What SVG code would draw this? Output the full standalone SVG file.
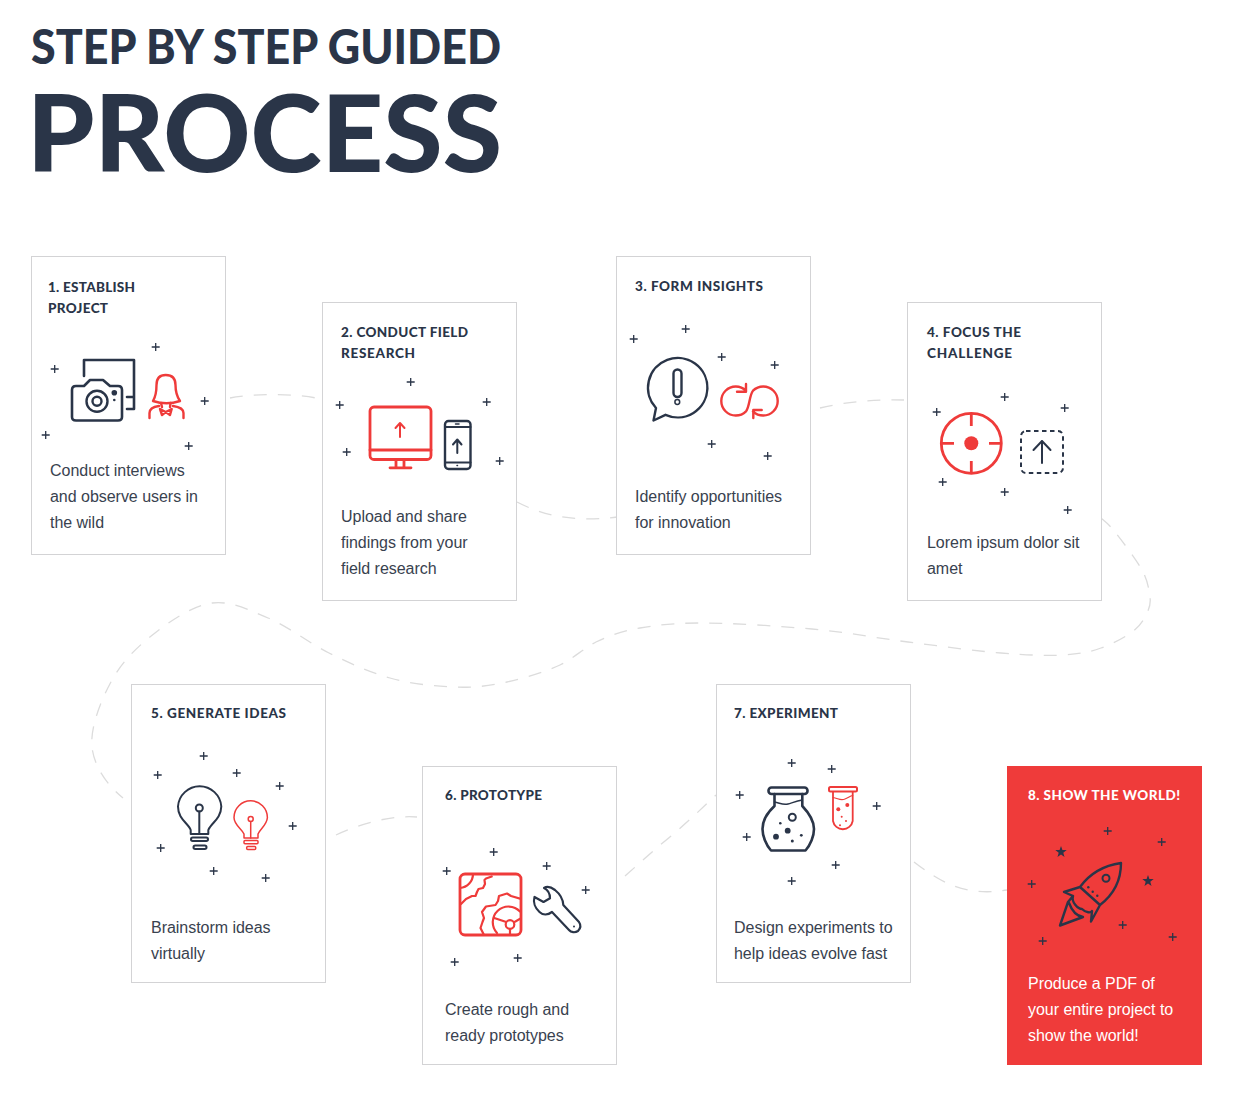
<svg xmlns="http://www.w3.org/2000/svg" xmlns:xlink="http://www.w3.org/1999/xlink" width="1236" height="1100" viewBox="0 0 1236 1100">
<style>
.card{fill:#fff;stroke:#d3d3d5;stroke-width:1}
.h{font-family:"Lato","Open Sans",sans-serif;font-weight:900;font-size:13.500px;fill:#2a3548}
.b{font-family:"Liberation Sans",Arial,sans-serif;font-size:16px;fill:#39424f;letter-spacing:-0.03px}
.t{font-family:"Lato","Open Sans",sans-serif;font-weight:900;fill:#2a3548}
.n{fill:none;stroke:#2a3548;stroke-width:2.400;stroke-linecap:round;stroke-linejoin:round}
.r{fill:none;stroke:#ef3b3a;stroke-width:2.400;stroke-linecap:round;stroke-linejoin:round}
.w2{stroke-width:2}
.w15{stroke-width:1.500}
.w18{stroke-width:1.800}
.nf{fill:#2a3548}
.rf{fill:#ef3b3a}
.wt{fill:#fff}
.c{fill:none;stroke:#dcdcdc;stroke-width:1.300;stroke-dasharray:13 11}
</style>
<defs>
<path id="p" d="M-3.300 0H4.700M0.700-4V4" fill="none" stroke="#2a3548" stroke-width="1.300"/>
<polygon id="s" points="0,-6 1.400,-1.900 5.700,-1.900 2.300,0.700 3.500,4.900 0,2.400 -3.500,4.900 -2.300,0.700 -5.700,-1.900 -1.400,-1.900" fill="#2a3548"/>
<clipPath id="sq"><rect x="460" y="874" width="61" height="61" rx="5"/></clipPath>
</defs>
<rect width="1236" height="1100" fill="#fff"/>
<g id="title">
<text class="t" x="31" y="64" font-size="48" textLength="470" lengthAdjust="spacingAndGlyphs">STEP BY STEP GUIDED</text>
<text class="t" x="27" y="172" font-size="107" textLength="475" lengthAdjust="spacingAndGlyphs">PROCESS</text>
</g>
<g id="connectors">
<path class="c" d="M230 398C250 394 290 393 316 398"/>
<path class="c" d="M517 502C540 514 570 523 617 517"/>
<path class="c" d="M820 408C845 402 875 399 904 400"/>
<path class="c" d="M1101 518C1103 520 1108 523 1115 532C1122 541 1136 559 1142 570C1148 581 1149 590 1150 597C1151 604.500 1149 609 1146 615C1143 621 1139.500 626.500 1132 632C1124.500 637.500 1112.500 644 1101 648C1089.500 652 1080 654 1063 655C1046 656 1027 655 1001 653C975 651 939.500 646 908 642C876.500 638 846 632 812 629C778 626 731 623 702 623C673 623 658 625 640 628C622 631 609 636 596 642C584 648 572 659.500 560 665C545 672 525 678 507 682C489 686 472.500 688 453 687C433.500 686 410.700 684 390 678C369 672 349 663 329 653C309 643 287.500 626 268 618C248.500 610 231 600.500 212 603C193 605.500 171.700 620 155 633C138 646 122.500 661 112 680C101.500 699 90 727 92 747C94 767 108 786 123 798"/>
<path class="c" d="M336 835C360 824 390 815 417 817"/>
<path class="c" d="M625 876L660 845C685 825 700 810 716 795"/>
<path class="c" d="M914 862C940 882 965 897 1007 890"/>
</g>

<g id="node-1">
<rect class="card" x="31.500" y="256.500" width="194" height="298"/>
<text class="h" x="48" y="292" textLength="87">1. ESTABLISH</text>
<text class="h" x="48" y="313" textLength="60">PROJECT</text>
<g>
<use href="#p" x="155" y="347"/><use href="#p" x="54" y="369"/><use href="#p" x="204" y="401"/><use href="#p" x="45" y="435"/><use href="#p" x="188" y="446"/>
<path class="n" style="stroke-width:2.600" d="M84 376V360H134V409H127M127 397H134"/>
<path class="n" style="stroke-width:2.600" d="M76 386H84L90 380H103L110 386H118Q122 386 122 390V417Q122 420.500 118 420.500H76Q72 420.500 72 417V390Q72 386 76 386Z"/>
<circle class="n" cx="97" cy="401.300" r="10.500"/><circle class="n" cx="97" cy="401.300" r="4.500"/>
<circle class="nf" cx="114.300" cy="392.700" r="2.800"/><circle class="nf" cx="114.300" cy="400" r="1.300"/>
<path class="r" d="M153 401C156 396 156.500 392 156.500 385C156.500 378 160 375 165.700 375C171.500 375 175.500 378 175.500 385C175.500 392 176.500 396 180 401C171 404 162 404 153 401Z"/>
<path class="r" d="M149.500 418V413C149.500 409 152 407 159 406M183.500 418V413C183.500 409 180 407 173 406M160 409L165.700 412L171.700 409L170 415L165.700 412L162 415ZM161 403L162 407M170.500 403L170 407"/>
</g>
<text class="b" x="50" y="476">Conduct interviews</text>
<text class="b" x="50" y="502">and observe users in</text>
<text class="b" x="50" y="528">the wild</text>
</g>

<g id="node-2">
<rect class="card" x="322.500" y="302.500" width="194" height="298"/>
<text class="h" x="341" y="337" textLength="127">2. CONDUCT FIELD</text>
<text class="h" x="341" y="358" textLength="74">RESEARCH</text>
<g>
<use href="#p" x="410" y="382"/><use href="#p" x="339" y="405"/><use href="#p" x="486" y="402"/><use href="#p" x="346" y="452"/><use href="#p" x="499" y="461"/>
<rect class="r" style="stroke-width:2.800" x="370" y="407" width="61" height="52.500" rx="4"/>
<path class="r" style="stroke-width:2.800" d="M370 450H431M396 460V467.500M404 460V467.500M390 467.800H411"/>
<path class="r w2" d="M400 437V423.500M395.500 428L400 423L404.500 428"/>
<rect class="n" x="445" y="421" width="25.500" height="48" rx="3.500"/>
<path class="n w2" d="M445 427H470.500M445 462.500H470.500M457.300 453V440M453 444.500L457.300 439.500L461.500 444.500"/>
<path class="n w15" d="M455.500 424H459M457 465.500H457.500"/>
</g>
<text class="b" x="341" y="522">Upload and share</text>
<text class="b" x="341" y="548">findings from your</text>
<text class="b" x="341" y="574">field research</text>
</g>

<g id="node-3">
<rect class="card" x="616.500" y="256.500" width="194" height="298"/>
<text class="h" x="635" y="291" textLength="128">3. FORM INSIGHTS</text>
<g>
<use href="#p" x="633" y="339"/><use href="#p" x="685" y="329"/><use href="#p" x="721" y="357"/><use href="#p" x="774" y="365"/><use href="#p" x="711" y="444"/><use href="#p" x="767" y="456"/>
<path class="n" d="M656 408A29.700 29.700 0 1 1 665.500 414.800L653.500 420.500Z"/>
<rect class="n" x="673.500" y="369.500" width="8" height="27.500" rx="4"/>
<circle class="n w15" cx="677.300" cy="402" r="2.400"/>
<path class="r" d="M746 390.700A14.500 14.500 0 1 0 746 411.300C749.500 407.500 749.500 394.500 753 390.700A14.500 14.500 0 1 1 753 411.300M737 391.700H746V384M761.700 410H753.300V418"/>
</g>
<text class="b" x="635" y="502">Identify opportunities</text>
<text class="b" x="635" y="528">for innovation</text>
</g>

<g id="node-4">
<rect class="card" x="907.500" y="302.500" width="194" height="298"/>
<text class="h" x="927" y="337" textLength="94">4. FOCUS THE</text>
<text class="h" x="927" y="358" textLength="85">CHALLENGE</text>
<g>
<use href="#p" x="936" y="412"/><use href="#p" x="1004" y="397"/><use href="#p" x="1064" y="408"/><use href="#p" x="942" y="482"/><use href="#p" x="1004" y="492"/><use href="#p" x="1067" y="510"/>
<circle cx="971.300" cy="443.300" r="30" fill="none" stroke="#ef3b3a" stroke-width="2.800"/>
<circle class="rf" cx="971.300" cy="443.300" r="7"/>
<path d="M971.300 414V426M971.300 461V473M941 443.300H954M989 443.300H1001" fill="none" stroke="#ef3b3a" stroke-width="2.800"/>
<rect x="1021" y="431" width="42" height="42" rx="5" fill="none" stroke="#2a3548" stroke-width="2" stroke-dasharray="4.500 3.500"/>
<path class="n w2" d="M1042 463V441M1033.500 450L1042 441L1050.500 450"/>
</g>
<text class="b" x="927" y="548">Lorem ipsum dolor sit</text>
<text class="b" x="927" y="574">amet</text>
</g>

<g id="node-5">
<rect class="card" x="131.500" y="684.500" width="194" height="298"/>
<text class="h" x="151" y="718" textLength="135">5. GENERATE IDEAS</text>
<g>
<use href="#p" x="203" y="756"/><use href="#p" x="157" y="775"/><use href="#p" x="236" y="773"/><use href="#p" x="279" y="786"/><use href="#p" x="292" y="826"/><use href="#p" x="160" y="848"/><use href="#p" x="213" y="871"/><use href="#p" x="265" y="878"/>
<path class="n w2" d="M190.700 834V830C188 823 178 819 178 806.500A21.700 21.700 0 0 1 221.300 806.500C221 819 211 823 208.300 830V834Z"/>
<circle class="n w2" cx="199.300" cy="808" r="3.500"/>
<path class="n w2" d="M199.300 811.500V834"/>
<rect class="n w2" x="191" y="837.500" width="17" height="3.500" rx="1.700"/>
<rect class="n w2" x="193.500" y="845.500" width="13" height="3.500" rx="1.700"/>
<path class="r w15" d="M244 838V834C242 829 234 825 234 817.500A16.700 16.700 0 0 1 267.400 817.500C267 825 260 829 258 834V838Z"/>
<circle class="r w15" cx="250.700" cy="819" r="2.500"/>
<path class="r w15" d="M250.700 821.500V838"/>
<rect class="r w15" x="244" y="840.500" width="14" height="3.200" rx="1"/>
<rect class="r w15" x="246.700" y="846.500" width="9" height="3" rx="1"/>
</g>
<text class="b" x="151" y="933">Brainstorm ideas</text>
<text class="b" x="151" y="959">virtually</text>
</g>

<g id="node-6">
<rect class="card" x="422.500" y="766.500" width="194" height="298"/>
<text class="h" x="445" y="800" textLength="97">6. PROTOTYPE</text>
<g>
<use href="#p" x="493" y="852"/><use href="#p" x="446" y="871"/><use href="#p" x="546" y="866"/><use href="#p" x="585" y="890"/><use href="#p" x="454" y="962"/><use href="#p" x="517" y="958"/>
<g clip-path="url(#sq)">
<path class="r" style="stroke-width:2.200" d="M473 874A14 14 0 0 1 460 888M491.700 876.500L486 878.500L484.500 880L485 884L483 888L478.500 889L477 892L475.500 896L472 896L466 899L461 904M521 899L511 896L507 893.500L499 896L498 901L495.500 905L486 906.500L482 912L484 918L482.500 922L480.500 928L483.500 934M520 911.500A15.700 15.700 0 0 0 497 933M495 918.300L505.500 921.700M515 921.700L521 918.300M510 929V935"/>
<circle class="r" style="stroke-width:2.200" cx="510" cy="924.500" r="4.300"/>
</g>
<rect class="r" style="stroke-width:2.800" x="460" y="874" width="61" height="61" rx="5"/>
<path class="n" style="stroke-width:2.200" d="M544 888C547 886 551 887 555 890C560 894 563 899 563.300 905L579 922C581 925 581 928 578 931C575 933 571 932.500 569 930L552 912C548 915 543 915.500 539.500 912C535 908 533 902 534.500 897L543.500 902L550 898.300C550 894 548 890 544 888Z"/>
<circle class="nf" cx="574" cy="926.500" r="1"/>
</g>
<text class="b" x="445" y="1015">Create rough and</text>
<text class="b" x="445" y="1041">ready prototypes</text>
</g>

<g id="node-7">
<rect class="card" x="716.500" y="684.500" width="194" height="298"/>
<text class="h" x="734" y="718" textLength="104">7. EXPERIMENT</text>
<g>
<use href="#p" x="791" y="763"/><use href="#p" x="831" y="769"/><use href="#p" x="739" y="795"/><use href="#p" x="876" y="806"/><use href="#p" x="746" y="837"/><use href="#p" x="835" y="865"/><use href="#p" x="791" y="881"/>
<rect class="n" style="stroke-width:2.600" x="768.500" y="787.500" width="39" height="6.500" rx="3"/>
<path class="n" style="stroke-width:2.600" d="M774.500 794V806C768 812 762.500 820 762.500 829C762.500 836 766 845 771 850.500H805.500C810.500 845 814 836 814 829C814 820 808 812 802.300 806V794"/>
<path class="n w15" d="M774.500 802C780 803 783 805.500 788 804C793 802.500 797 801 802.300 800"/>
<circle class="n w2" cx="792.300" cy="817.300" r="3.500"/>
<circle class="nf" cx="787.700" cy="830.700" r="2.900"/><circle class="nf" cx="776" cy="836.700" r="2.900"/><circle class="nf" cx="780.300" cy="823.300" r="1.300"/><circle class="nf" cx="792.300" cy="841" r="1.500"/><circle class="nf" cx="801.300" cy="835.300" r="1.400"/>
<rect class="r w2" x="829" y="787" width="28" height="4.500" rx="1.500"/>
<path class="r w18" d="M833 792V821A10 10 0 0 0 852.700 821V792"/>
<path class="r" style="stroke-width:1.200" d="M833 797.500C838 798 840 801 845 799C848 798 850 796 852.700 795.500"/>
<circle class="rf" cx="838.300" cy="809.300" r="2"/><circle class="rf" cx="847.300" cy="805" r="2"/><circle class="rf" cx="841.700" cy="816.700" r="1"/><circle class="rf" cx="846" cy="821" r="1"/><circle class="rf" cx="840" cy="825.300" r="1"/>
</g>
<text class="b" x="734" y="933">Design experiments to</text>
<text class="b" x="734" y="959">help ideas evolve fast</text>
</g>

<g id="node-8">
<rect class="rf" x="1007" y="766" width="195" height="299"/>
<text class="h wt" x="1028" y="800" textLength="152">8. SHOW THE WORLD!</text>
<g>
<use href="#p" x="1107" y="831"/><use href="#p" x="1161" y="842"/><use href="#p" x="1031" y="884"/><use href="#p" x="1122" y="925"/><use href="#p" x="1172" y="937"/><use href="#p" x="1042" y="941"/>
<use href="#s" x="1061" y="852"/><use href="#s" x="1148" y="881"/>
<path class="n" d="M1121 863C1100 866 1088 876 1080 887L1100 905C1113 895 1121 882 1121 863ZM1080 887L1064 892L1073 896C1071 902 1078 909 1082 909C1086 913 1091 913 1092 911L1091 921.500L1100 905M1073 896L1068 902L1060 925.500L1083 917C1076 916 1072 911 1069 903"/>
<circle class="n w2" cx="1106" cy="878.300" r="3.500"/>
<circle class="nf" cx="1088.300" cy="887.300" r="1.200"/><circle class="nf" cx="1092.700" cy="891.700" r="1.200"/><circle class="nf" cx="1097.300" cy="895.700" r="1.200"/>
</g>
<text class="b wt" x="1028" y="989">Produce a PDF of</text>
<text class="b wt" x="1028" y="1015">your entire project to</text>
<text class="b wt" x="1028" y="1041">show the world!</text>
</g>
</svg>
